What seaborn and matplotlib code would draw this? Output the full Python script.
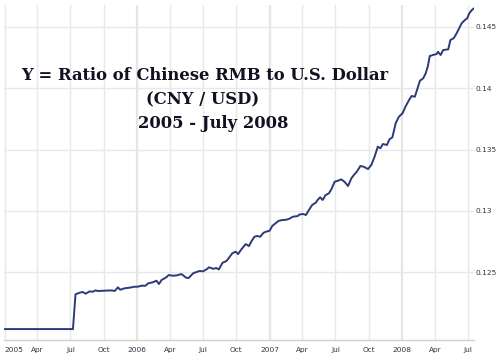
import matplotlib
matplotlib.use("Agg")
import matplotlib.pyplot as plt
import matplotlib.dates as mdates
import pandas as pd
import seaborn as sns

# weekly-ish readings of CNY per USD ratio
dates = [
    "2005-01-01", "2005-07-08", "2005-07-15", "2005-07-26", "2005-08-04", "2005-08-12",
    "2005-08-23", "2005-09-01", "2005-09-08", "2005-09-15", "2005-09-29", "2005-10-22",
    "2005-10-31", "2005-11-09", "2005-11-15", "2005-11-27", "2005-12-11", "2005-12-25",
    "2006-01-03", "2006-01-12", "2006-01-24", "2006-01-31", "2006-02-13", "2006-02-23",
    "2006-03-02", "2006-03-09", "2006-03-22", "2006-03-29", "2006-04-10", "2006-04-21",
    "2006-05-03", "2006-05-16", "2006-05-23", "2006-06-04", "2006-06-13", "2006-06-22",
    "2006-07-01", "2006-07-11", "2006-07-18", "2006-07-29", "2006-08-07", "2006-08-14",
    "2006-08-24", "2006-09-04", "2006-09-13", "2006-09-20", "2006-09-29", "2006-10-06",
    "2006-10-15", "2006-10-27", "2006-11-05", "2006-11-11", "2006-11-20", "2006-11-27",
    "2006-12-06", "2006-12-15", "2006-12-22", "2007-01-01", "2007-01-08", "2007-01-17",
    "2007-01-26", "2007-02-06", "2007-02-15", "2007-02-24", "2007-03-06", "2007-03-19",
    "2007-03-24", "2007-04-03", "2007-04-11", "2007-04-18", "2007-04-28", "2007-05-08",
    "2007-05-13", "2007-05-20", "2007-05-27", "2007-06-04", "2007-06-13", "2007-06-20",
    "2007-06-29", "2007-07-08", "2007-07-17", "2007-07-26", "2007-08-05", "2007-08-14",
    "2007-08-23", "2007-08-29", "2007-09-08", "2007-09-17", "2007-09-29", "2007-10-08",
    "2007-10-17", "2007-10-26", "2007-11-02", "2007-11-09", "2007-11-20", "2007-11-27",
    "2007-12-05", "2007-12-11", "2007-12-14", "2007-12-23", "2008-01-02", "2008-01-11",
    "2008-01-20", "2008-01-27", "2008-02-05", "2008-02-11", "2008-02-19", "2008-02-28",
    "2008-03-06", "2008-03-12", "2008-03-17", "2008-03-26", "2008-04-05", "2008-04-09",
    "2008-04-16", "2008-04-23", "2008-05-07", "2008-05-13", "2008-05-22", "2008-05-30",
    "2008-06-06", "2008-06-13", "2008-06-22", "2008-06-28", "2008-07-04", "2008-07-11",
    "2008-07-17",
]
rates = [
    0.12038, 0.12038, 0.12321, 0.12334, 0.12340, 0.12326,
    0.12345, 0.12342, 0.12353, 0.12348, 0.12350, 0.12353,
    0.12348, 0.12378, 0.12358, 0.12370, 0.12375, 0.12383,
    0.12383, 0.12391, 0.12391, 0.12410, 0.12419, 0.12432,
    0.12405, 0.12437, 0.12459, 0.12478, 0.12472, 0.12476,
    0.12486, 0.12456, 0.12454, 0.12492, 0.12502, 0.12511,
    0.12508, 0.12524, 0.12541, 0.12529, 0.12535, 0.12524,
    0.12578, 0.12592, 0.12627, 0.12655, 0.12668, 0.12649,
    0.12687, 0.12730, 0.12714, 0.12749, 0.12790, 0.12796,
    0.12790, 0.12822, 0.12831, 0.12839, 0.12877, 0.12899,
    0.12920, 0.12926, 0.12928, 0.12936, 0.12953, 0.12958,
    0.12971, 0.12975, 0.12967, 0.13002, 0.13048, 0.13067,
    0.13089, 0.13111, 0.13089, 0.13129, 0.13143, 0.13176,
    0.13238, 0.13246, 0.13257, 0.13238, 0.13203, 0.13265,
    0.13300, 0.13319, 0.13366, 0.13360, 0.13341, 0.13374,
    0.13441, 0.13523, 0.13510, 0.13545, 0.13537, 0.13583,
    0.13599, 0.13673, 0.13713, 0.13767, 0.13795, 0.13854,
    0.13903, 0.13936, 0.13930, 0.13985, 0.14060, 0.14080,
    0.14121, 0.14180, 0.14261, 0.14270, 0.14278, 0.14296,
    0.14270, 0.14310, 0.14316, 0.14392, 0.14406, 0.14446,
    0.14487, 0.14528, 0.14555, 0.14568, 0.14609, 0.14636,
    0.14650,
]
y_ticks = [0.125, 0.13, 0.135, 0.14, 0.145]
year_lines = ["2006-01-01", "2007-01-01", "2008-01-01"]
title_lines = ["Y = Ratio of Chinese RMB to U.S. Dollar", "(CNY / USD)", "2005 - July 2008"]

df = pd.DataFrame({"date": pd.to_datetime(dates), "rate": rates})

sns.set_style("white")
fig = plt.figure(figsize=(4.97, 3.57), dpi=100)
ax = fig.add_axes([4 / 497, 17 / 357, 470 / 497, 335 / 357])

# grid first so the line sits on top
ax.set_axisbelow(True)
ax.grid(True, color="#e8e8e8", linewidth=1.0)
for d in year_lines:
    ax.axvline(pd.Timestamp(d), color="#e4e4e4", linewidth=1.6, zorder=0)

sns.lineplot(data=df, x="date", y="rate", ax=ax, color="#2c3a78", linewidth=1.4)

ax.set_xlim(pd.Timestamp("2004-12-30"), pd.Timestamp("2008-07-17"))
ax.set_ylim(0.11949, 0.14677)
ax.set_xlabel("")
ax.set_ylabel("")

ax.xaxis.set_major_locator(mdates.MonthLocator(bymonth=[1, 4, 7, 10]))


def fmt_month(x, pos=None):
    d = mdates.num2date(x)
    return str(d.year) if d.month == 1 else d.strftime("%b")


ax.xaxis.set_major_formatter(plt.FuncFormatter(fmt_month))
ax.set_yticks(y_ticks)
ax.set_yticklabels([f"{t:g}" for t in y_ticks])
ax.yaxis.tick_right()

ax.tick_params(axis="both", length=0, labelsize=5.3, colors="#333344")
ax.tick_params(axis="x", pad=5)
ax.tick_params(axis="y", pad=1)
ax.get_xticklabels()[0].set_ha("left")

for side in ["top", "left", "right"]:
    ax.spines[side].set_visible(False)
ax.spines["bottom"].set_color("#d0d0d0")
ax.spines["bottom"].set_linewidth(1.0)

title_x = [205, 203, 213]
title_base = [80, 104, 128]
for txt, tx, ty in zip(title_lines, title_x, title_base):
    fig.text(tx / 497, 1 - ty / 357, txt, ha="center", va="baseline",
             fontsize=11.8, fontweight="bold", family="DejaVu Serif", color="#111122")

fig.savefig("out.png", dpi=100)
